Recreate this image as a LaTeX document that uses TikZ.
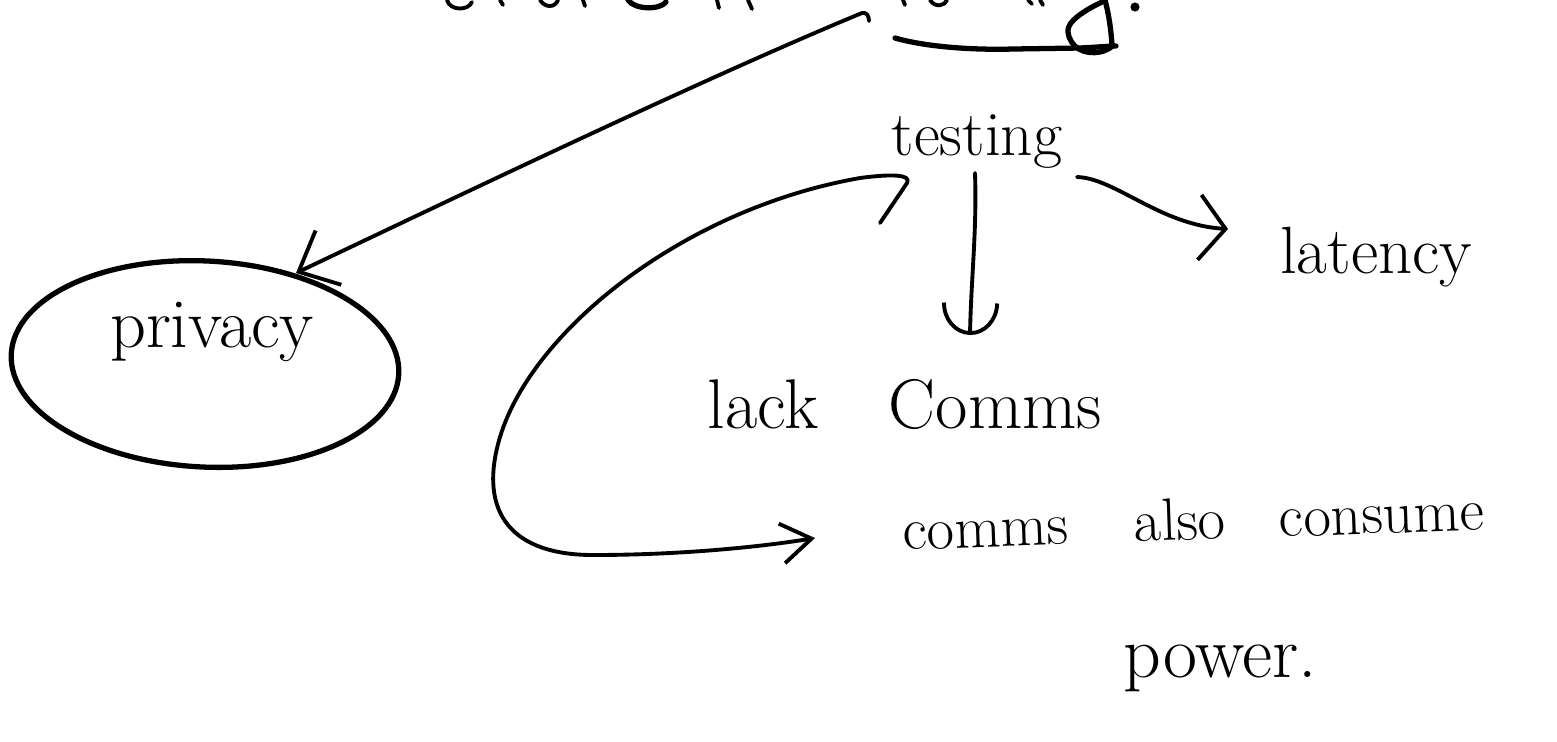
\documentclass[tikz,border=0pt]{standalone}
\usetikzlibrary{arrows.meta}
\tikzset{
  ink/.style={line width=1.1pt, line cap=round, line join=round},
  thickink/.style={line width=1.5pt, line cap=round, line join=round},
  lbl/.style={inner sep=0pt, anchor=base},
  lblw/.style={inner sep=0pt, anchor=base west},
}
\begin{document}
\begin{tikzpicture}[x=0.01cm,y=-0.01cm]
\useasboundingbox (0,0) rectangle (1557,741);

% cut-off heading fragments and its underline
\draw[ink] (447,0) .. controls (450,11) and (468,11) .. (472,2);
\draw[ink] (500,0) -- (503,5);
\draw[ink] (540,0) .. controls (545,8) and (555,8) .. (558,0);
\draw[ink] (583,0) -- (585,6);
\draw[thickink] (628,0) .. controls (635,10) and (660,10) .. (666,2);
\draw[ink] (717,0) -- (719,8);
\draw[ink] (748,0) -- (752,9);
\draw[ink] (903,0) -- (905,5);
\draw[ink] (930,0) .. controls (935,8) and (945,6) .. (947,0);
\draw[ink] (1028,0) -- (1032,4);
\draw[ink] (1040,0) -- (1043,5);
\draw[thickink] (895,38) .. controls (930,48) and (980,50) .. (1013,49) -- (1080,48) .. controls (1100,47) and (1110,46) .. (1116,46);
\draw[thickink] (1105,0) .. controls (1109,15) and (1111,30) .. (1112,45);
\draw[thickink] (1102,2) .. controls (1085,10) and (1066,22) .. (1068,32) .. controls (1070,48) and (1085,55) .. (1100,52) .. controls (1108,50) and (1112,47) .. (1113,45);
\fill (1135,7) circle[radius=1.3pt];

% labels
\node[lbl, font=\fontsize{20}{24}\selectfont] (privacy) at (212,347) {privacy};
\node[lbl, font=\fontsize{18}{22}\selectfont] (testing) at (977,155) {testing};
\node[lbl, font=\fontsize{19}{23}\selectfont] (latency) at (1376,273) {latency};
\node[lblw, font=\fontsize{20}{24}\selectfont] (lack) at (707,428) {lack\hspace{1em}Comms};
\node[lblw, font=\fontsize{17}{21}\selectfont, rotate=2] (consume) at (903,550) {comms\hspace{1.1em}also\hspace{0.9em}consume};
\node[lblw, font=\fontsize{21}{25}\selectfont] (power) at (1123,677) {power.};

% ring round privacy
\draw[thickink, rotate around={-3:(205,364)}] (205,364) ellipse [x radius=194, y radius=103];

% connector end points
\coordinate (headtip) at (862,13);
\coordinate (privtip) at (296,273);
\coordinate (testbot) at (975,173);
\coordinate (commtop) at (970,335);
\coordinate (testright) at (1077,177);
\coordinate (lattip) at (1228,229);
\coordinate (loopstart) at (880,223);
\coordinate (constip) at (815,538);

% connectors
\draw[ink] (869,21) .. controls (869,15) and (866,12) .. (headtip);
\draw[ink, -{Straight Barb[length=3.3mm,width=6mm]}] (headtip) .. controls (700,80) and (450,200) .. (privtip);
\draw[ink, -{Arc Barb[length=3.2mm,width=5.7mm]}] (testbot) .. controls (977,230) and (971,280) .. (commtop);
\draw[ink, -{Straight Barb[length=2.6mm,width=6.5mm]}] (testright) .. controls (1115,178) and (1160,225) .. (lattip);
\draw[ink, -{Straight Barb[length=3mm,width=4mm]}] (loopstart) -- (907,183) .. controls (912,174) and (890,174) .. (860,178) .. controls (683,209) and (532,331) .. (500,437) .. controls (477,514) and (513,555) .. (593,555) .. controls (680,555) and (760,547) .. (constip);
\end{tikzpicture}
\end{document}
